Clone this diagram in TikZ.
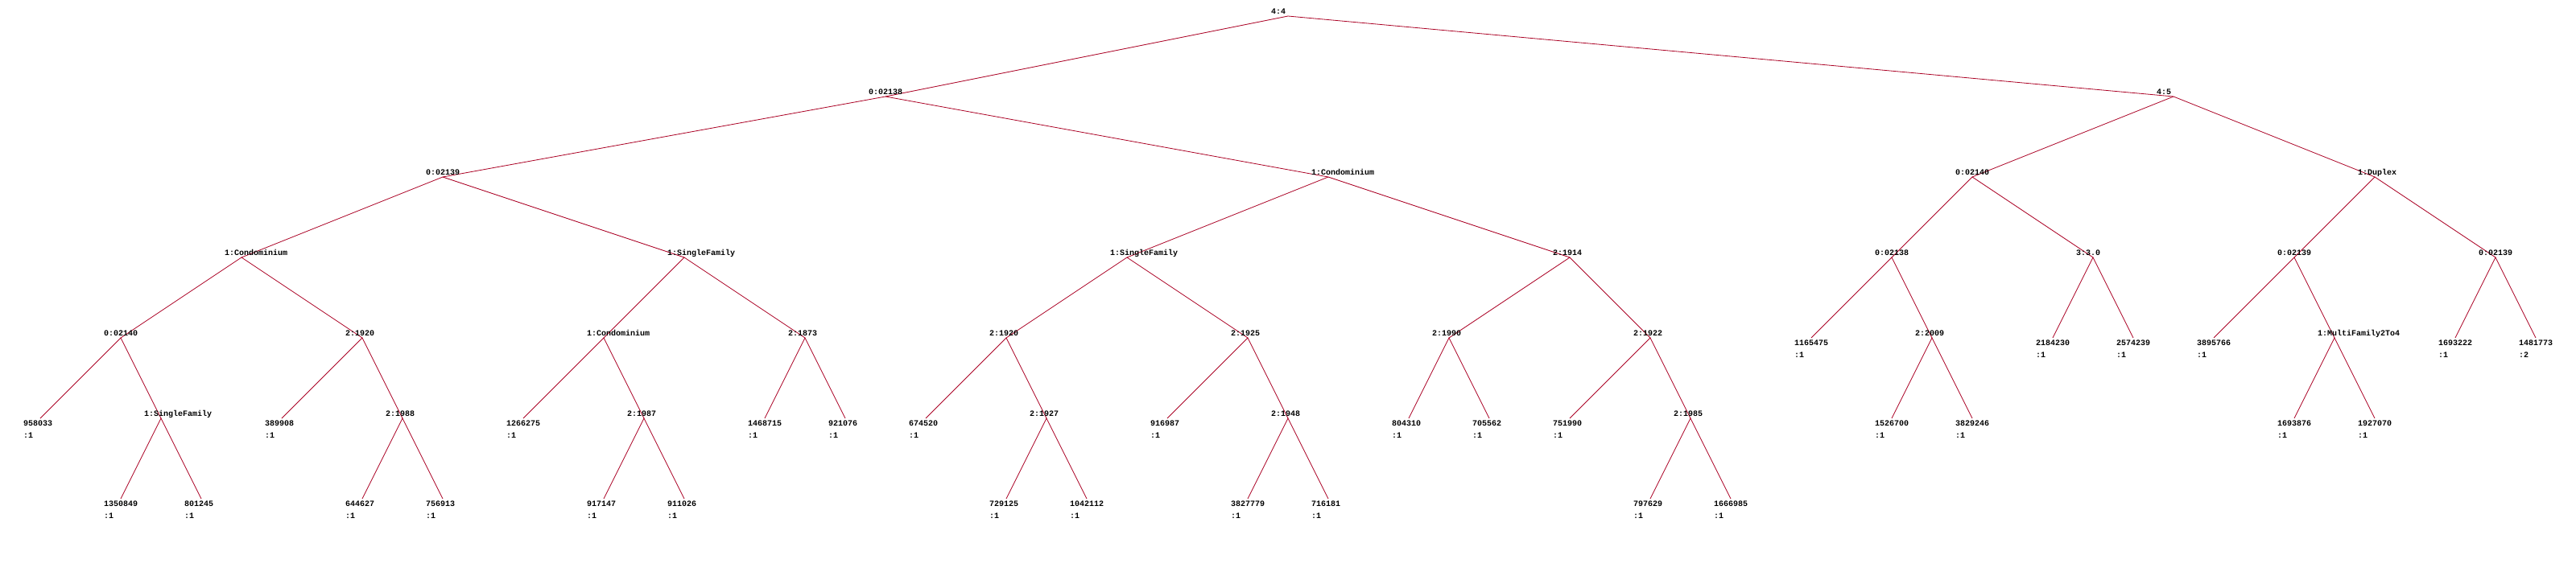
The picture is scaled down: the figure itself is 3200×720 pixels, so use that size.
\documentclass[tikz,border=0pt]{standalone}
\usepackage{fontspec}
\newfontfamily\treefont{Liberation Mono}
\definecolor{linkred}{RGB}{170,0,35}

\begin{document}
\begin{tikzpicture}[x=1pt,y=-1pt,
		link/.style={draw=linkred, line width=0.8pt},
		lab/.style={font=\treefont\bfseries\fontsize{10}{10}\selectfont, inner sep=0pt, anchor=base west, xshift=-21pt},
		inner/.style={lab, yshift=2.5pt},
		num/.style={lab, yshift=-9pt},
		cnt/.style={lab, yshift=-24pt}]
			\useasboundingbox (0,0) rectangle (3200,720);
			\coordinate (r) at (1600,20);
			\coordinate (rL) at (1100,120);
			\coordinate (rR) at (2700,120);
			\coordinate (rLL) at (550,220);
			\coordinate (rLR) at (1650,220);
			\coordinate (rRL) at (2450,220);
			\coordinate (rRR) at (2950,220);
			\coordinate (rLLL) at (300,320);
			\coordinate (rLLR) at (850,320);
			\coordinate (rLRL) at (1400,320);
			\coordinate (rLRR) at (1950,320);
			\coordinate (rRLL) at (2350,320);
			\coordinate (rRLR) at (2600,320);
			\coordinate (rRRL) at (2850,320);
			\coordinate (rRRR) at (3100,320);
			\coordinate (rLLLL) at (150,420);
			\coordinate (rLLLR) at (450,420);
			\coordinate (rLLRL) at (750,420);
			\coordinate (rLLRR) at (1000,420);
			\coordinate (rLRLL) at (1250,420);
			\coordinate (rLRLR) at (1550,420);
			\coordinate (rLRRL) at (1800,420);
			\coordinate (rLRRR) at (2050,420);
			\coordinate (rRLLL) at (2250,420);
			\coordinate (rRLLR) at (2400,420);
			\coordinate (rRLRL) at (2550,420);
			\coordinate (rRLRR) at (2650,420);
			\coordinate (rRRLL) at (2750,420);
			\coordinate (rRRLR) at (2900,420);
			\coordinate (rRRRL) at (3050,420);
			\coordinate (rRRRR) at (3150,420);
			\coordinate (rLLLLL) at (50,520);
			\coordinate (rLLLLR) at (200,520);
			\coordinate (rLLLRL) at (350,520);
			\coordinate (rLLLRR) at (500,520);
			\coordinate (rLLRLL) at (650,520);
			\coordinate (rLLRLR) at (800,520);
			\coordinate (rLLRRL) at (950,520);
			\coordinate (rLLRRR) at (1050,520);
			\coordinate (rLRLLL) at (1150,520);
			\coordinate (rLRLLR) at (1300,520);
			\coordinate (rLRLRL) at (1450,520);
			\coordinate (rLRLRR) at (1600,520);
			\coordinate (rLRRLL) at (1750,520);
			\coordinate (rLRRLR) at (1850,520);
			\coordinate (rLRRRL) at (1950,520);
			\coordinate (rLRRRR) at (2100,520);
			\coordinate (rRLLRL) at (2350,520);
			\coordinate (rRLLRR) at (2450,520);
			\coordinate (rRRLRL) at (2850,520);
			\coordinate (rRRLRR) at (2950,520);
			\coordinate (rLLLLRL) at (150,620);
			\coordinate (rLLLLRR) at (250,620);
			\coordinate (rLLLRRL) at (450,620);
			\coordinate (rLLLRRR) at (550,620);
			\coordinate (rLLRLRL) at (750,620);
			\coordinate (rLLRLRR) at (850,620);
			\coordinate (rLRLLRL) at (1250,620);
			\coordinate (rLRLLRR) at (1350,620);
			\coordinate (rLRLRRL) at (1550,620);
			\coordinate (rLRLRRR) at (1650,620);
			\coordinate (rLRRRRL) at (2050,620);
			\coordinate (rLRRRRR) at (2150,620);

			\draw[link] (rL) -- (r) -- (rR);
			\draw[link] (rLL) -- (rL) -- (rLR);
			\draw[link] (rRL) -- (rR) -- (rRR);
			\draw[link] (rLLL) -- (rLL) -- (rLLR);
			\draw[link] (rLRL) -- (rLR) -- (rLRR);
			\draw[link] (rRLL) -- (rRL) -- (rRLR);
			\draw[link] (rRRL) -- (rRR) -- (rRRR);
			\draw[link] (rLLLL) -- (rLLL) -- (rLLLR);
			\draw[link] (rLLRL) -- (rLLR) -- (rLLRR);
			\draw[link] (rLRLL) -- (rLRL) -- (rLRLR);
			\draw[link] (rLRRL) -- (rLRR) -- (rLRRR);
			\draw[link] (rRLLL) -- (rRLL) -- (rRLLR);
			\draw[link] (rRLRL) -- (rRLR) -- (rRLRR);
			\draw[link] (rRRLL) -- (rRRL) -- (rRRLR);
			\draw[link] (rRRRL) -- (rRRR) -- (rRRRR);
			\draw[link] (rLLLLL) -- (rLLLL) -- (rLLLLR);
			\draw[link] (rLLLRL) -- (rLLLR) -- (rLLLRR);
			\draw[link] (rLLRLL) -- (rLLRL) -- (rLLRLR);
			\draw[link] (rLLRRL) -- (rLLRR) -- (rLLRRR);
			\draw[link] (rLRLLL) -- (rLRLL) -- (rLRLLR);
			\draw[link] (rLRLRL) -- (rLRLR) -- (rLRLRR);
			\draw[link] (rLRRLL) -- (rLRRL) -- (rLRRLR);
			\draw[link] (rLRRRL) -- (rLRRR) -- (rLRRRR);
			\draw[link] (rRLLRL) -- (rRLLR) -- (rRLLRR);
			\draw[link] (rRRLRL) -- (rRRLR) -- (rRRLRR);
			\draw[link] (rLLLLRL) -- (rLLLLR) -- (rLLLLRR);
			\draw[link] (rLLLRRL) -- (rLLLRR) -- (rLLLRRR);
			\draw[link] (rLLRLRL) -- (rLLRLR) -- (rLLRLRR);
			\draw[link] (rLRLLRL) -- (rLRLLR) -- (rLRLLRR);
			\draw[link] (rLRLRRL) -- (rLRLRR) -- (rLRLRRR);
			\draw[link] (rLRRRRL) -- (rLRRRR) -- (rLRRRRR);

			\node[inner] (rT) at (r) {4:4};
			\node[inner] (rLT) at (rL) {0:02138};
			\node[inner] (rRT) at (rR) {4:5};
			\node[inner] (rLLT) at (rLL) {0:02139};
			\node[inner] (rLRT) at (rLR) {1:Condominium};
			\node[inner] (rRLT) at (rRL) {0:02140};
			\node[inner] (rRRT) at (rRR) {1:Duplex};
			\node[inner] (rLLLT) at (rLLL) {1:Condominium};
			\node[inner] (rLLRT) at (rLLR) {1:SingleFamily};
			\node[inner] (rLRLT) at (rLRL) {1:SingleFamily};
			\node[inner] (rLRRT) at (rLRR) {2:1914};
			\node[inner] (rRLLT) at (rRLL) {0:02138};
			\node[inner] (rRLRT) at (rRLR) {3:3.0};
			\node[inner] (rRRLT) at (rRRL) {0:02139};
			\node[inner] (rRRRT) at (rRRR) {0:02139};
			\node[inner] (rLLLLT) at (rLLLL) {0:02140};
			\node[inner] (rLLLRT) at (rLLLR) {2:1920};
			\node[inner] (rLLRLT) at (rLLRL) {1:Condominium};
			\node[inner] (rLLRRT) at (rLLRR) {2:1873};
			\node[inner] (rLRLLT) at (rLRLL) {2:1920};
			\node[inner] (rLRLRT) at (rLRLR) {2:1925};
			\node[inner] (rLRRLT) at (rLRRL) {2:1990};
			\node[inner] (rLRRRT) at (rLRRR) {2:1922};
			\node[inner] (rRLLRT) at (rRLLR) {2:2009};
			\node[inner] (rRRLRT) at (rRRLR) {1:MultiFamily2To4};
			\node[inner] (rLLLLRT) at (rLLLLR) {1:SingleFamily};
			\node[inner] (rLLLRRT) at (rLLLRR) {2:1988};
			\node[inner] (rLLRLRT) at (rLLRLR) {2:1987};
			\node[inner] (rLRLLRT) at (rLRLLR) {2:1927};
			\node[inner] (rLRLRRT) at (rLRLRR) {2:1948};
			\node[inner] (rLRRRRT) at (rLRRRR) {2:1985};

			\node[num] (rRLLLT) at (rRLLL) {1165475};
			\node[cnt] (rRLLLC) at (rRLLL) {:1};
			\node[num] (rRLRLT) at (rRLRL) {2184230};
			\node[cnt] (rRLRLC) at (rRLRL) {:1};
			\node[num] (rRLRRT) at (rRLRR) {2574239};
			\node[cnt] (rRLRRC) at (rRLRR) {:1};
			\node[num] (rRRLLT) at (rRRLL) {3895766};
			\node[cnt] (rRRLLC) at (rRRLL) {:1};
			\node[num] (rRRRLT) at (rRRRL) {1693222};
			\node[cnt] (rRRRLC) at (rRRRL) {:1};
			\node[num] (rRRRRT) at (rRRRR) {1481773};
			\node[cnt] (rRRRRC) at (rRRRR) {:2};
			\node[num] (rLLLLLT) at (rLLLLL) {958033};
			\node[cnt] (rLLLLLC) at (rLLLLL) {:1};
			\node[num] (rLLLRLT) at (rLLLRL) {389908};
			\node[cnt] (rLLLRLC) at (rLLLRL) {:1};
			\node[num] (rLLRLLT) at (rLLRLL) {1266275};
			\node[cnt] (rLLRLLC) at (rLLRLL) {:1};
			\node[num] (rLLRRLT) at (rLLRRL) {1468715};
			\node[cnt] (rLLRRLC) at (rLLRRL) {:1};
			\node[num] (rLLRRRT) at (rLLRRR) {921076};
			\node[cnt] (rLLRRRC) at (rLLRRR) {:1};
			\node[num] (rLRLLLT) at (rLRLLL) {674520};
			\node[cnt] (rLRLLLC) at (rLRLLL) {:1};
			\node[num] (rLRLRLT) at (rLRLRL) {916987};
			\node[cnt] (rLRLRLC) at (rLRLRL) {:1};
			\node[num] (rLRRLLT) at (rLRRLL) {804310};
			\node[cnt] (rLRRLLC) at (rLRRLL) {:1};
			\node[num] (rLRRLRT) at (rLRRLR) {705562};
			\node[cnt] (rLRRLRC) at (rLRRLR) {:1};
			\node[num] (rLRRRLT) at (rLRRRL) {751990};
			\node[cnt] (rLRRRLC) at (rLRRRL) {:1};
			\node[num] (rRLLRLT) at (rRLLRL) {1526700};
			\node[cnt] (rRLLRLC) at (rRLLRL) {:1};
			\node[num] (rRLLRRT) at (rRLLRR) {3829246};
			\node[cnt] (rRLLRRC) at (rRLLRR) {:1};
			\node[num] (rRRLRLT) at (rRRLRL) {1693876};
			\node[cnt] (rRRLRLC) at (rRRLRL) {:1};
			\node[num] (rRRLRRT) at (rRRLRR) {1927070};
			\node[cnt] (rRRLRRC) at (rRRLRR) {:1};
			\node[num] (rLLLLRLT) at (rLLLLRL) {1350849};
			\node[cnt] (rLLLLRLC) at (rLLLLRL) {:1};
			\node[num] (rLLLLRRT) at (rLLLLRR) {801245};
			\node[cnt] (rLLLLRRC) at (rLLLLRR) {:1};
			\node[num] (rLLLRRLT) at (rLLLRRL) {644627};
			\node[cnt] (rLLLRRLC) at (rLLLRRL) {:1};
			\node[num] (rLLLRRRT) at (rLLLRRR) {756913};
			\node[cnt] (rLLLRRRC) at (rLLLRRR) {:1};
			\node[num] (rLLRLRLT) at (rLLRLRL) {917147};
			\node[cnt] (rLLRLRLC) at (rLLRLRL) {:1};
			\node[num] (rLLRLRRT) at (rLLRLRR) {911026};
			\node[cnt] (rLLRLRRC) at (rLLRLRR) {:1};
			\node[num] (rLRLLRLT) at (rLRLLRL) {729125};
			\node[cnt] (rLRLLRLC) at (rLRLLRL) {:1};
			\node[num] (rLRLLRRT) at (rLRLLRR) {1042112};
			\node[cnt] (rLRLLRRC) at (rLRLLRR) {:1};
			\node[num] (rLRLRRLT) at (rLRLRRL) {3827779};
			\node[cnt] (rLRLRRLC) at (rLRLRRL) {:1};
			\node[num] (rLRLRRRT) at (rLRLRRR) {716181};
			\node[cnt] (rLRLRRRC) at (rLRLRRR) {:1};
			\node[num] (rLRRRRLT) at (rLRRRRL) {797629};
			\node[cnt] (rLRRRRLC) at (rLRRRRL) {:1};
			\node[num] (rLRRRRRT) at (rLRRRRR) {1666985};
			\node[cnt] (rLRRRRRC) at (rLRRRRR) {:1};
		\end{tikzpicture}
\end{document}
